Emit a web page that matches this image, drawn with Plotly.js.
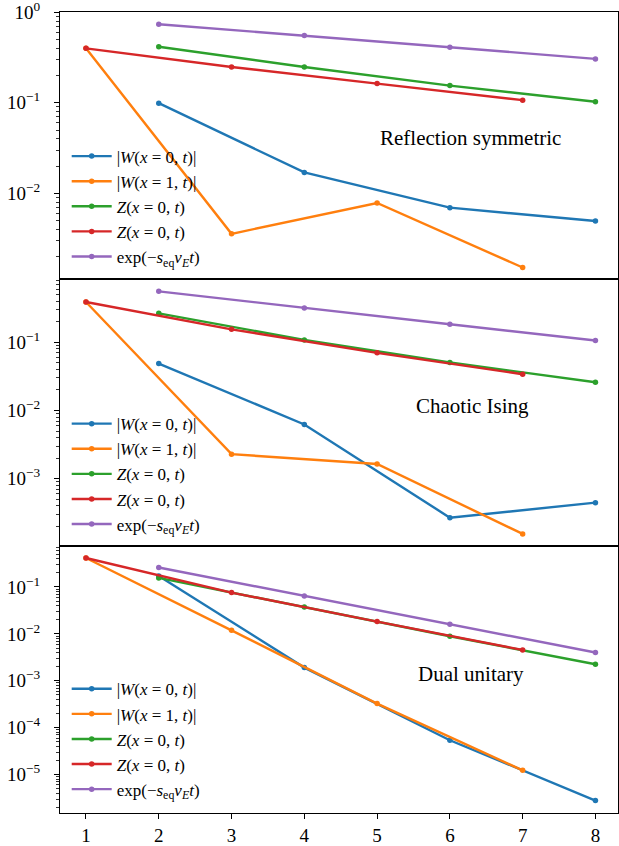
<!DOCTYPE html>
<html>
<head>
<meta charset="utf-8">
<script src="https://cdn.plot.ly/plotly-3.0.1.min.js"></script>
<style>html,body{margin:0;padding:0;background:#fff;}#chart{width:619px;height:846px;}</style>
</head>
<body>
<div id="chart"></div>
<script>
// ---------- data ----------
const tEven = [2, 4, 6, 8];
const tOdd  = [1, 3, 5, 7];

const seriesNames = [
  "|<i>W</i>(<i>x</i> = 0, <i>t</i>)|",
  "|<i>W</i>(<i>x</i> = 1, <i>t</i>)|",
  "<i>Z</i>(<i>x</i> = 0, <i>t</i>)",
  "<i>Z</i>(<i>x</i> = 0, <i>t</i>)",
  "exp(−<i>s</i><sub>eq</sub><i>v<sub>E</sub>t</i>)"
];
const panelTitles = ["Reflection symmetric", "Chaotic Ising", "Dual unitary"];

// Reflection symmetric
const rsW0 = [0.099, 0.0170, 0.00693, 0.00493];
const rsW1 = [0.40, 0.00356, 0.00781, 0.00151];
const rsZe = [0.416, 0.249, 0.155, 0.1026];
const rsZo = [0.40, 0.249, 0.163, 0.107];
const rsExp = [0.74, 0.555, 0.412, 0.306];

// Chaotic Ising
const ciW0 = [0.0488, 0.00624, 0.000268, 0.000445];
const ciW1 = [0.39, 0.00229, 0.00164, 0.000155];
const ciZe = [0.266, 0.108, 0.0505, 0.026];
const ciZo = [0.39, 0.155, 0.070, 0.034];
const ciExp = [0.558, 0.318, 0.184, 0.106];

// Dual unitary
const duW0 = [0.172, 0.00191, 5.4e-5, 2.8e-6];
const duW1 = [0.415, 0.0119, 0.000327, 1.23e-5];
const duZe = [0.156, 0.0375, 0.0089, 0.00225];
const duZo = [0.415, 0.076, 0.0183, 0.00454];
const duExp = [0.26, 0.0643, 0.016, 0.0040];

const xTicks = [1, 2, 3, 4, 5, 6, 7, 8];

// ---------- styling ----------
const colors = ["#1f77b4", "#ff7f0e", "#2ca02c", "#d62728", "#9467bd"];
const FONT = "Liberation Serif, DejaVu Serif, serif";
const panels = [
  {data: [rsW0, rsW1, rsZe, rsZo, rsExp], xa: "x3", ya: "y3", legend: "legend"},
  {data: [ciW0, ciW1, ciZe, ciZo, ciExp], xa: "x2", ya: "y2", legend: "legend2"},
  {data: [duW0, duW1, duZe, duZo, duExp], xa: "x",  ya: "y",  legend: "legend3"}
];
const xsFor = [tEven, tOdd, tEven, tOdd, tEven];

const traces = [];
panels.forEach((p, pi) => {
  p.data.forEach((ys, si) => {
    traces.push({
      x: xsFor[si], y: ys, type: "scatter", mode: "lines+markers",
      name: seriesNames[si],
      line: {color: colors[si], width: 2.4},
      marker: {color: colors[si], size: 5.5},
      xaxis: p.xa, yaxis: p.ya, legend: p.legend,
      legendgroup: "p" + pi + "s" + si
    });
  });
});

function sup(n) { return "10<sup>" + (n < 0 ? "−" + (-n) : n) + "</sup>"; }
function yax(domain, range, exps) {
  return {
    type: "log", domain: domain, range: range,
    tickmode: "array", tickvals: exps.map(e => Math.pow(10, e)), ticktext: exps.map(sup),
    ticks: "outside", ticklen: 5, tickwidth: 1, tickcolor: "#000",
    ticklabelstandoff: 10, ticklabeloverflow: "allow",
    minor: {ticks: "outside", ticklen: 2.5, tickwidth: 0.8, tickcolor: "#000", dtick: "D1", showgrid: false},
    showline: true, mirror: true, linecolor: "#000", linewidth: 1.1,
    showgrid: false, zeroline: false,
    tickfont: {family: FONT, size: 19, color: "#000"}
  };
}
function xax(anchor, showLabels) {
  return {
    anchor: anchor, range: [0.643, 8.31], domain: [0, 1],
    tickmode: "array", tickvals: xTicks, ticktext: xTicks.map(String),
    ticks: showLabels ? "outside" : "", ticklen: 5, tickcolor: "#000",
    showticklabels: showLabels,
    showline: true, mirror: true, linecolor: "#000", linewidth: 1.1,
    showgrid: false, zeroline: false,
    tickfont: {family: FONT, size: 19, color: "#000"}
  };
}
function leg(y) {
  return {
    x: 0.012, y: y, xanchor: "left", yanchor: "top",
    bgcolor: "rgba(0,0,0,0)", borderwidth: 0,
    font: {family: FONT, size: 17, color: "#000"},
    tracegroupgap: 0, itemwidth: 40
  };
}

const layout = {
  width: 619, height: 846,
  margin: {l: 60, r: 1, t: 12, b: 33, pad: 0},
  paper_bgcolor: "#fff", plot_bgcolor: "#fff",
  showlegend: true,
  xaxis: xax("y", true),
  xaxis2: Object.assign(xax("y2", false), {matches: "x"}),
  xaxis3: Object.assign(xax("y3", false), {matches: "x"}),
  yaxis: yax([0, 1/3], [-5.819, -0.126], [-5, -4, -3, -2, -1]),
  yaxis2: yax([1/3, 2/3], [-3.987, -0.072], [-3, -2, -1]),
  yaxis3: yax([2/3, 1], [-2.948, 0.004], [-2, -1, 0]),
  legend: leg(0.842),
  legend2: leg(0.508),
  legend3: leg(0.177),
  annotations: [
    {text: panelTitles[0], xref: "x3", yref: "y3 domain", x: 6.29, y: 0.527, showarrow: false,
     xanchor: "center", yanchor: "middle", font: {family: FONT, size: 21, color: "#000"}},
    {text: panelTitles[1], xref: "x2", yref: "y2 domain", x: 6.31, y: 0.526, showarrow: false,
     xanchor: "center", yanchor: "middle", font: {family: FONT, size: 21, color: "#000"}},
    {text: panelTitles[2], xref: "x", yref: "y domain", x: 6.29, y: 0.52, showarrow: false,
     xanchor: "center", yanchor: "middle", font: {family: FONT, size: 21, color: "#000"}}
  ]
};

Plotly.newPlot("chart", traces, layout, {displayModeBar: false, staticPlot: true});
</script>
</body>
</html>
